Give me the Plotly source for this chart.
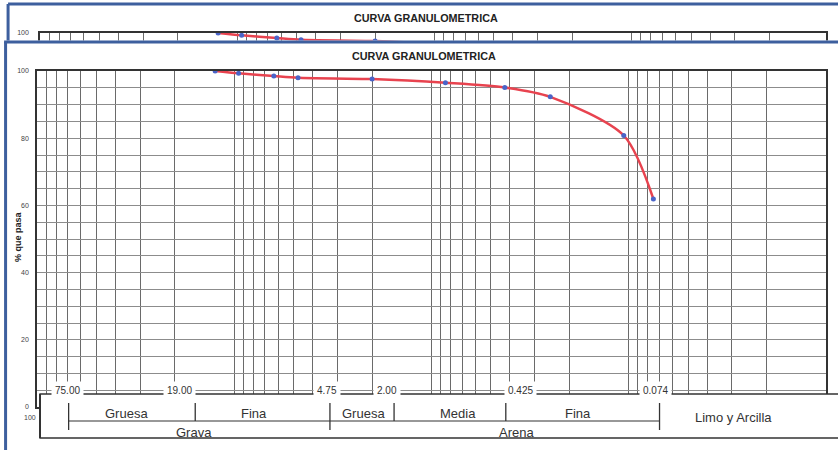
import math
import plotly.graph_objects as go

# ---------------- data ----------------
sizes_mm = [12.5, 9.5, 6.3, 4.75, 2.0, 0.85, 0.425, 0.25, 0.106, 0.075]
pct_pass = [100.0, 99.3, 98.5, 98.0, 97.6, 96.5, 95.1, 92.3, 80.8, 61.9]

sieve_sizes = [75.0, 19.0, 4.75, 2.0, 0.425, 0.074]
sieve_labels = ["75.00", "19.00", "4.75", "2.00", "0.425", "0.074"]
sub_classes = ["Gruesa", "Fina", "Gruesa", "Media", "Fina"]
main_classes = ["Grava", "Arena"]
fines_label = "Limo y Arcilla"
y_tick_vals = list(range(0, 101, 5))
y_tick_labels = [str(v) if v % 20 == 0 else "" for v in y_tick_vals]
x_grid_vals = [d * 10 ** k for k in range(-2, 2) for d in range(1, 10)] + [100]
title_text = "CURVA GRANULOMETRICA"
y_title = "% que pasa"

# ---------------- layout / style ----------------
W, H = 838, 450
ML, MR, MT, MB = 37, 10, 33, 43
PW, PH = W - ML - MR, H - MT - MB
DEC_PX = PW / 4.0
FONT = "Liberation Sans, Arial, sans-serif"
BLUE = "#3d5f9e"
RED = "#e8434f"
MARK = "#4a64c8"
GRID_V = "#6a6a6a"
GRID_H = "#8c8c8c"
DARK = "#333333"

label_shift = [6, 0, 29, 15, 16, 1]
sep_shift = [7, 16, 32, 22, 1, 5]
sep_long = [True, False, True, False, False, True]
sub_shift = [6, 15, 28, 20, -2]
main_shift = [14, 40]
fines_shift = -7


def xp(px):
    return (px - ML) / PW


def yp(py):
    return (H - MB - py) / PH


def shifted(v, px):
    return v * 10 ** (-px / DEC_PX)


def gmean(a, b):
    return math.sqrt(a * b)


main_top = yp(71)
strip_bot = yp(41)
strip_range = [100 - (41 - 33) / (336 / 100.0), 100]

fig = go.Figure()
for xa, ya in (("x", "y"), ("x2", "y2")):
    fig.add_trace(go.Scatter(
        x=sizes_mm, y=pct_pass, xaxis=xa, yaxis=ya,
        mode="lines+markers",
        line=dict(color=RED, width=2.5, shape="spline", smoothing=0.8),
        marker=dict(color=MARK, size=5),
        showlegend=False, hoverinfo="skip"))

axis_common = dict(showline=True, mirror=True, linecolor=DARK, linewidth=1.5,
                   zeroline=False, ticks="")

fig.update_layout(
    width=W, height=H,
    margin=dict(l=ML, r=MR, t=MT, b=MB),
    paper_bgcolor="white", plot_bgcolor="white",
    font=dict(family=FONT, color="#222"),
    xaxis=dict(type="log", range=[2, -2], domain=[0, 1], tickvals=x_grid_vals,
               showticklabels=False, showgrid=True, gridcolor=GRID_V, gridwidth=1,
               anchor="y", **axis_common),
    yaxis=dict(range=[0, 100], domain=[0, main_top], tickvals=y_tick_vals,
               ticktext=y_tick_labels, showgrid=True, gridcolor=GRID_H, gridwidth=1,
               tickfont=dict(size=7, color="#444"), ticklabelstandoff=5,
               anchor="x", **axis_common),
    xaxis2=dict(type="log", range=[2, 2 - (PW - 3) / DEC_PX], domain=[xp(40), 1],
                tickvals=x_grid_vals, showticklabels=False, showgrid=True,
                gridcolor=GRID_V, gridwidth=1, anchor="y2", **axis_common),
    yaxis2=dict(range=strip_range, domain=[strip_bot, 1], tickvals=[100],
                ticktext=["100"], showgrid=False,
                tickfont=dict(size=7, color="#444"), ticklabelstandoff=8,
                anchor="x2", **axis_common),
)

shapes = []
# scanned page frames (blue)
shapes.append(dict(type="line", xref="paper", yref="paper", x0=xp(8), x1=xp(845),
                   y0=yp(4), y1=yp(4), line=dict(color=BLUE, width=3)))
shapes.append(dict(type="line", xref="paper", yref="paper", x0=xp(8), x1=xp(8),
                   y0=yp(4), y1=yp(41), line=dict(color=BLUE, width=3)))
shapes.append(dict(type="rect", xref="paper", yref="paper", x0=xp(6), x1=xp(845),
                   y0=yp(42), y1=yp(40.5), fillcolor="white", line=dict(width=0)))
shapes.append(dict(type="line", xref="paper", yref="paper", x0=xp(4), x1=xp(845),
                   y0=yp(42), y1=yp(42), line=dict(color=BLUE, width=3)))
shapes.append(dict(type="line", xref="paper", yref="paper", x0=xp(5.5), x1=xp(5.5),
                   y0=yp(42), y1=yp(455), line=dict(color=BLUE, width=3)))

# classification table
shapes.append(dict(type="rect", xref="paper", yref="paper", x0=xp(40), x1=xp(850),
                   y0=yp(438), y1=yp(394), fillcolor="white",
                   line=dict(color=DARK, width=1.3), layer="above"))
shapes.append(dict(type="line", xref="paper", yref="paper", x0=xp(40), x1=xp(40),
                   y0=yp(394), y1=yp(438), line=dict(color=DARK, width=2), layer="above"))
shapes.append(dict(type="line", xref="x", yref="paper",
                   x0=shifted(sieve_sizes[0], sep_shift[0]),
                   x1=shifted(sieve_sizes[-1], sep_shift[-1]),
                   y0=yp(421), y1=yp(421), line=dict(color=DARK, width=1.2), layer="above"))
for s, sh, lg in zip(sieve_sizes, sep_shift, sep_long):
    shapes.append(dict(type="line", xref="x", yref="paper",
                       x0=shifted(s, sh), x1=shifted(s, sh),
                       y0=yp(403), y1=yp(430 if lg else 421),
                       line=dict(color=DARK, width=1.3), layer="above"))
fig.update_layout(shapes=shapes)


def note(text, x, y, xref="paper", yref="paper", size=13, color="#333", **kw):
    d = dict(text=text, xref=xref, yref=yref, x=x, y=y, showarrow=False,
             xanchor=kw.pop("xanchor", "center"), yanchor="middle",
             font=dict(size=size, color=color))
    d.update(kw)
    return d


ann = []
ann.append(note("<b>%s</b>" % title_text, xp(425), yp(56), size=10.8, color="#222"))
ann.append(note("<b>%s</b>" % title_text, xp(427), yp(18), size=10.8, color="#222"))
ann.append(note("<b>%s</b>" % y_title, xp(18), yp(237), size=9, color="#222",
                textangle=-90))
ann.append(note("100", xp(38.5), yp(417), size=7, color="#444", xanchor="right"))
for s, lab, sh in zip(sieve_sizes, sieve_labels, label_shift):
    ann.append(note(lab, math.log10(shifted(s, sh)), 5, xref="x", yref="y",
                    size=10, bgcolor="white", borderpad=3))
for i, (lab, sh) in enumerate(zip(sub_classes, sub_shift)):
    xv = shifted(gmean(sieve_sizes[i], sieve_sizes[i + 1]), sh)
    ann.append(note(lab, math.log10(xv), yp(413), xref="x"))
bounds = [(sieve_sizes[0], sieve_sizes[2]), (sieve_sizes[2], sieve_sizes[5])]
for lab, (a, b), sh in zip(main_classes, bounds, main_shift):
    xv = shifted(gmean(a, b), sh)
    ann.append(note(lab, math.log10(xv), yp(432), xref="x"))
xv = shifted(gmean(sieve_sizes[-1], 0.01), fines_shift)
ann.append(note(fines_label, math.log10(xv), yp(417), xref="x"))
fig.update_layout(annotations=ann)

fig.write_html("out.html")
